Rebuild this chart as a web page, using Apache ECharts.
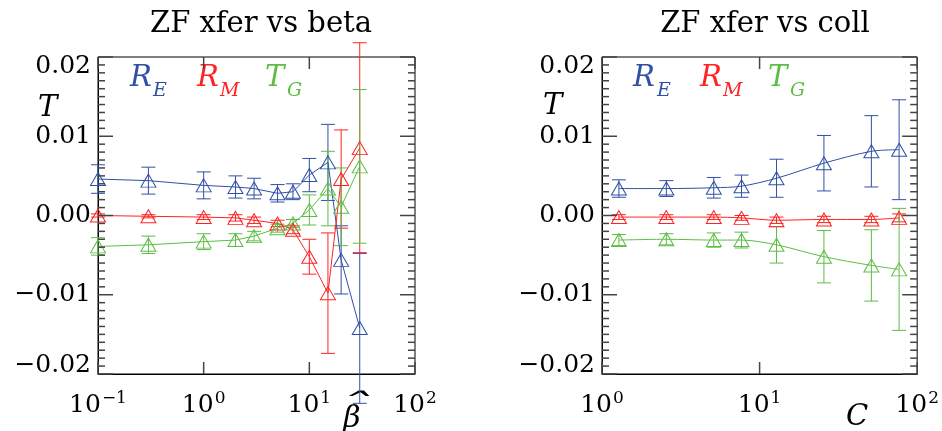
<!DOCTYPE html>
<html>
<head>
<meta charset="utf-8">
<script src="https://cdn.jsdelivr.net/npm/echarts@6/dist/echarts.min.js"></script>
<style>
html, body { margin: 0; padding: 0; background: #fff; }
#main { width: 942px; height: 431px; }
</style>
</head>
<body>
<div id="main"></div>
<script>
// left panel: scan in beta
var betaX = [0.1, 0.3, 1, 2, 3, 5, 7, 10, 15, 20, 30];
var betaRE = [0.0046, 0.0044, 0.0038, 0.0036, 0.0034, 0.0028, 0.0030, 0.0051, 0.0067, -0.0056, -0.0142];
var betaREerr = [0.0018, 0.0017, 0.0017, 0.0014, 0.0013, 0.0011, 0.0010, 0.0021, 0.0048, 0.0043, 0.0095];
var betaRM = [0.0000, -0.0001, -0.0002, -0.0003, -0.0006, -0.0010, -0.0018, -0.0052, -0.0098, 0.0046, 0.0085];
var betaRMerr = [0.0002, 0.0002, 0.0003, 0.0004, 0.0004, 0.0004, 0.0005, 0.0022, 0.0076, 0.0062, 0.0133];
var betaTG = [-0.0039, -0.0037, -0.0033, -0.0031, -0.0026, -0.0016, -0.0010, 0.0007, 0.0034, 0.0011, 0.0062];
var betaTGerr = [0.0011, 0.0011, 0.0010, 0.0008, 0.0006, 0.0005, 0.0005, 0.0019, 0.0047, 0.0049, 0.0097];

// right panel: scan in collisionality
var collX = [1.28, 2.56, 5.12, 7.68, 12.8, 25.6, 51.2, 76.8];
var collRE = [0.0034, 0.0034, 0.0035, 0.0037, 0.0047, 0.0066, 0.0081, 0.0083];
var collREerr = [0.0011, 0.0010, 0.0013, 0.0014, 0.0024, 0.0035, 0.0045, 0.0063];
var collRM = [-0.0002, -0.0002, -0.0002, -0.0003, -0.0006, -0.0005, -0.0005, -0.0003];
var collRMerr = [0.0003, 0.0003, 0.0003, 0.0003, 0.0004, 0.0004, 0.0004, 0.0005];
var collTG = [-0.0031, -0.0030, -0.0031, -0.0031, -0.0037, -0.0052, -0.0063, -0.0068];
var collTGerr = [0.0007, 0.0007, 0.0009, 0.0010, 0.0023, 0.0033, 0.0045, 0.0077];

// axis ranges and ticks
var yMin = -0.02, yMax = 0.02, yStep = 0.01, yMinorStep = 0.001;
var betaMin = 0.1, collMin = 1, xMax = 100;
var betaDecades = [0.1, 1, 10, 100];
var collDecades = [1, 10, 100];

var cRE = '#2f50a5', cRM = '#ff2222', cTG = '#5dbd45';
var cTick = '#444';
var serif = 'DejaVu Serif';

var myChart = echarts.init(document.getElementById('main'));

function pairs(xs, ys) {
    return xs.map(function (x, i) { return [x, ys[i]]; });
}
function bars(xs, ys, es) {
    return xs.map(function (x, i) { return [x, ys[i] - es[i], ys[i] + es[i]]; });
}

function renderErr(params, api) {
    var x = api.value(0);
    var lo = api.coord([x, api.value(1)]);
    var hi = api.coord([x, api.value(2)]);
    var w = 7;
    var st = { stroke: api.visual('color'), lineWidth: 1 };
    return {
        type: 'group',
        children: [
            { type: 'line', shape: { x1: lo[0], y1: lo[1], x2: hi[0], y2: hi[1] }, style: st },
            { type: 'line', shape: { x1: lo[0] - w, y1: lo[1], x2: lo[0] + w, y2: lo[1] }, style: st },
            { type: 'line', shape: { x1: hi[0] - w, y1: hi[1], x2: hi[0] + w, y2: hi[1] }, style: st }
        ]
    };
}

// inward ticks on left and right frame; frame edges come from the axis extent
function yTickRenderer(xLo, xHi) {
    return function (params, api) {
        var v = api.value(1);
        var pl = api.coord([xLo, v]);
        var pr = api.coord([xHi, v]);
        var k = v / yStep;
        var len = Math.abs(k - Math.round(k)) < 1e-6 ? 15 : 7;
        var st = { stroke: cTick, lineWidth: 1.5 };
        return {
            type: 'group',
            children: [
                { type: 'line', shape: { x1: pl[0], y1: pl[1], x2: pl[0] + len, y2: pl[1] }, style: st },
                { type: 'line', shape: { x1: pr[0], y1: pr[1], x2: pr[0] - len, y2: pr[1] }, style: st }
            ]
        };
    };
}

// inward ticks on bottom and top frame at each decade
function renderXTick(params, api) {
    var d = api.value(0);
    var pb = api.coord([d, yMin]);
    var pt = api.coord([d, yMax]);
    var len = 12;
    var st = { stroke: cTick, lineWidth: 1.5 };
    return {
        type: 'group',
        children: [
            { type: 'line', shape: { x1: pb[0], y1: pb[1], x2: pb[0], y2: pb[1] - len }, style: st },
            { type: 'line', shape: { x1: pt[0], y1: pt[1], x2: pt[0], y2: pt[1] + len }, style: st }
        ]
    };
}

function yTickData(xRef) {
    var out = [];
    var n = Math.round((yMax - yMin) / yMinorStep);
    for (var k = 0; k <= n; k++) out.push([xRef, yMin + k * yMinorStep]);
    return out;
}

function xAx(gi, min) {
    return {
        gridIndex: gi,
        type: 'log',
        logBase: 10,
        min: min,
        max: xMax,
        position: 'bottom',
        axisLine: { show: true, onZero: false, lineStyle: { color: '#000', width: 1 } },
        axisTick: { show: false },
        minorTick: { show: false },
        splitLine: { show: false },
        axisLabel: {
            margin: 16,
            formatter: function (v) {
                var e = Math.round(Math.log10(v));
                return '{b|10}{s|' + (e < 0 ? '\u2212' + (-e) : e) + '}';
            },
            rich: {
                b: { fontFamily: serif, fontSize: 25, color: '#000' },
                s: { fontFamily: serif, fontSize: 17, color: '#000', padding: [0, 0, 14, 1] }
            }
        }
    };
}

function yAx(gi) {
    return {
        gridIndex: gi,
        type: 'value',
        min: yMin,
        max: yMax,
        interval: yStep,
        position: 'left',
        axisLine: { show: true, onZero: false, lineStyle: { color: '#000', width: 1 } },
        axisTick: { show: false },
        splitLine: { show: false },
        axisLabel: {
            margin: 7,
            formatter: function (v) {
                var s = Math.abs(v).toFixed(2);
                s = v < -1e-9 ? '\u2212' + s : s;
                if (v > yMax - 1e-9) return '{t|' + s + '}';
                if (v < yMin + 1e-9) return '{d|' + s + '}';
                return '{n|' + s + '}';
            },
            rich: {
                n: { fontFamily: serif, fontSize: 25, color: '#000' },
                t: { fontFamily: serif, fontSize: 25, color: '#000', padding: [19, 0, 0, 0] },
                d: { fontFamily: serif, fontSize: 25, color: '#000', padding: [0, 0, 17, 0] }
            }
        }
    };
}

function lineSer(ax, xs, ys, color, smooth) {
    return {
        type: 'line',
        xAxisIndex: ax,
        yAxisIndex: ax,
        data: pairs(xs, ys),
        symbol: 'triangle',
        symbolSize: [15, 13],
        showAllSymbol: true,
        smooth: smooth,
        lineStyle: { color: color, width: 1 },
        itemStyle: { color: 'rgba(0,0,0,0)', borderColor: color, borderWidth: 1 },
        emphasis: { disabled: true },
        z: 3
    };
}

function errSer(ax, xs, ys, es, color) {
    return {
        type: 'custom',
        xAxisIndex: ax,
        yAxisIndex: ax,
        data: bars(xs, ys, es),
        encode: { x: 0, y: [1, 2] },
        renderItem: renderErr,
        itemStyle: { color: color },
        clip: false,
        z: 2
    };
}

function tickSer(ax, data, render) {
    return {
        type: 'custom',
        xAxisIndex: ax,
        yAxisIndex: ax,
        data: data,
        encode: { x: 0, y: 1 },
        renderItem: render,
        itemStyle: { color: cTick },
        silent: true,
        clip: false,
        z: 4
    };
}

function txt(x, y, s, size, color, align, sx) {
    return {
        type: 'text',
        x: x,
        y: y,
        scaleX: sx || 1,
        style: {
            text: s,
            font: 'italic ' + size + 'px "' + serif + '"',
            fill: color,
            textAlign: align || 'left',
            textVerticalAlign: 'middle'
        }
    };
}

myChart.setOption({
    animation: false,
    title: [
        { text: 'ZF xfer vs beta', left: 256, top: 5, textAlign: 'center',
          textStyle: { fontFamily: serif, fontSize: 29, fontWeight: 'normal', color: '#000' } },
        { text: 'ZF xfer vs coll', left: 760, top: 5, textAlign: 'center',
          textStyle: { fontFamily: serif, fontSize: 29, fontWeight: 'normal', color: '#000' } }
    ],
    grid: [
        { left: 98, top: 57, width: 317, height: 317, show: true, borderColor: '#000', borderWidth: 1, backgroundColor: 'transparent' },
        { left: 602, top: 57, width: 317, height: 317, show: true, borderColor: '#000', borderWidth: 1, backgroundColor: 'transparent' }
    ],
    xAxis: [xAx(0, betaMin), xAx(1, collMin)],
    yAxis: [yAx(0), yAx(1)],
    series: [
        tickSer(0, yTickData(1), yTickRenderer(betaMin, xMax)),
        tickSer(0, betaDecades.map(function (d) { return [d, 0]; }), renderXTick),
        tickSer(1, yTickData(10), yTickRenderer(collMin, xMax)),
        tickSer(1, collDecades.map(function (d) { return [d, 0]; }), renderXTick),
        errSer(0, betaX, betaRE, betaREerr, cRE),
        errSer(0, betaX, betaRM, betaRMerr, cRM),
        errSer(0, betaX, betaTG, betaTGerr, cTG),
        lineSer(0, betaX, betaRE, cRE, false),
        lineSer(0, betaX, betaRM, cRM, false),
        lineSer(0, betaX, betaTG, cTG, false),
        errSer(1, collX, collRE, collREerr, cRE),
        errSer(1, collX, collRM, collRMerr, cRM),
        errSer(1, collX, collTG, collTGerr, cTG),
        lineSer(1, collX, collRE, cRE, 0.3),
        lineSer(1, collX, collRM, cRM, 0.3),
        lineSer(1, collX, collTG, cTG, 0.3)
    ],
    graphic: [
        txt(130, 78, 'R', 29, cRE), txt(153, 91, 'E', 19, cRE),
        txt(197, 78, 'R', 29, cRM), txt(220, 91, 'M', 19, cRM),
        txt(265, 78, 'T', 29, cTG), txt(287, 91, 'G', 19, cTG),
        txt(633, 78, 'R', 29, cRE), txt(657, 91, 'E', 19, cRE),
        txt(700, 78, 'R', 29, cRM), txt(723, 91, 'M', 19, cRM),
        txt(768, 78, 'T', 29, cTG), txt(790, 91, 'G', 19, cTG),
        txt(38, 108, 'T', 29, '#000'),
        txt(543, 106, 'T', 29, '#000'),
        txt(352, 419, '\u03B2', 30, '#000', 'center'),
        txt(354, 406, '\u02C6', 30, '#000', 'center', 2.2),
        txt(857, 417, 'C', 29, '#000', 'center')
    ]
});
</script>
</body>
</html>
